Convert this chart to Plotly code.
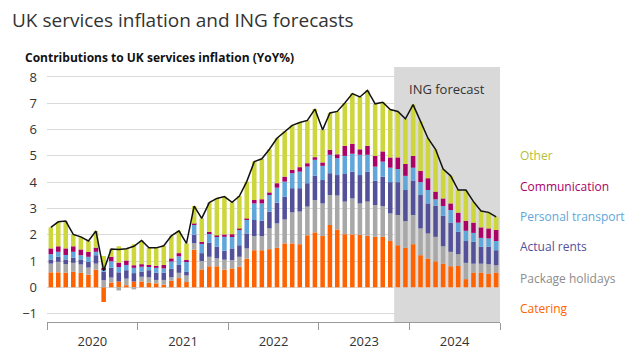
import plotly.graph_objects as go
import pandas as pd

months = pd.date_range("2020-01-01", periods=60, freq="MS").strftime("%Y-%m-%d").tolist()

catering = [0.57, 0.57, 0.56, 0.59, 0.55, 0.48, 0.67, -0.56, 0.18, 0.22, 0.08, 0.22,
            0.22, 0.17, 0.15, 0.10, 0.25, 0.35, 0.20, 1.43, 0.68, 0.80, 0.80, 0.67,
            0.72, 0.78, 1.09, 1.41, 1.41, 1.45, 1.50, 1.67, 1.67, 1.64, 1.98, 2.09,
            1.95, 2.37, 2.20, 2.02, 2.01, 2.00, 1.96, 1.92, 1.92, 1.76, 1.60, 1.50,
            1.64, 1.22, 1.09, 0.99, 0.90, 0.80, 0.81, 0.31, 0.56, 0.56, 0.52, 0.56]
package_holidays = [0.33, 0.40, 0.32, 0.34, 0.32, 0.27, 0.23, 0.27, 0.19, -0.12, 0.25, -0.08,
                    0.18, 0.21, 0.13, 0.18, 0.13, 0.20, 0.25, 0.25, 0.32, 0.36, 0.30, 0.38,
                    0.31, 0.38, 0.39, 0.54, 0.54, 0.79, 0.93, 0.91, 1.18, 1.24, 1.09, 1.23,
                    1.24, 1.14, 1.29, 1.24, 1.37, 1.19, 1.30, 1.21, 1.17, 1.05, 1.15, 1.02,
                    1.11, 1.02, 0.96, 0.93, 0.66, 0.55, 0.45, 0.62, 0.34, 0.34, 0.36, 0.28]
actual_rents = [0.16, 0.19, 0.18, 0.20, 0.19, 0.22, 0.32, 0.32, 0.38, 0.35, 0.32, 0.32,
                0.20, 0.27, 0.27, 0.27, 0.32, 0.30, 0.15, 0.32, 0.30, 0.53, 0.45, 0.34,
                0.45, 0.44, 0.57, 0.61, 0.58, 0.64, 0.79, 0.87, 0.92, 0.89, 0.89, 0.93,
                0.89, 0.83, 0.78, 1.05, 1.02, 1.08, 1.14, 0.93, 1.12, 1.19, 1.25, 1.18,
                1.31, 1.27, 1.14, 1.18, 1.16, 1.11, 0.85, 0.83, 0.83, 0.64, 0.66, 0.57]
personal_transport = [0.20, 0.19, 0.17, 0.22, 0.16, 0.19, 0.13, 0.10, 0.24, 0.20, 0.20, 0.20,
                      0.18, 0.13, 0.19, 0.17, 0.28, 0.33, 0.38, 0.38, 0.35, 0.36, 0.37, 0.53,
                      0.47, 0.58, 0.51, 0.63, 0.66, 0.63, 0.57, 0.57, 0.57, 0.63, 0.63, 0.60,
                      0.54, 0.70, 0.64, 0.69, 0.68, 0.77, 0.64, 0.53, 0.57, 0.55, 0.50, 0.54,
                      0.49, 0.49, 0.51, 0.25, 0.37, 0.48, 0.35, 0.39, 0.34, 0.34, 0.32, 0.35]
communication = [0.22, 0.21, 0.25, 0.21, 0.22, 0.19, 0.16, 0.05, 0.17, 0.17, 0.17, 0.10,
                 0.10, 0.07, 0.08, 0.13, 0.12, 0.12, 0.06, 0.04, 0.08, 0.06, 0.05, 0.09,
                 0.07, 0.05, 0.05, 0.13, 0.16, 0.10, 0.17, 0.19, 0.13, 0.17, 0.13, 0.10,
                 0.13, 0.19, 0.15, 0.38, 0.38, 0.21, 0.34, 0.41, 0.39, 0.39, 0.44, 0.45,
                 0.45, 0.43, 0.45, 0.29, 0.29, 0.25, 0.38, 0.38, 0.39, 0.40, 0.38, 0.42]
other = [0.80, 0.93, 1.04, 0.45, 0.48, 0.41, 0.63, 0.45, 0.30, 0.62, 0.45, 0.80,
         0.90, 0.65, 0.68, 0.73, 0.86, 0.85, 0.63, 0.67, 0.89, 1.11, 1.41, 1.44,
         1.21, 1.24, 1.41, 1.46, 1.54, 1.64, 1.71, 1.72, 1.69, 1.70, 1.63, 1.83,
         1.24, 1.40, 1.63, 1.63, 1.91, 1.99, 2.11, 1.98, 1.87, 1.82, 1.75, 1.72,
         1.95, 1.88, 1.52, 1.61, 1.12, 1.05, 0.86, 1.17, 0.80, 0.62, 0.61, 0.50]

series = [
    ("Catering", catering, "#FF6200"),
    ("Package holidays", package_holidays, "#A8A8A8"),
    ("Actual rents", actual_rents, "#525199"),
    ("Personal transport", personal_transport, "#60A6DA"),
    ("Communication", communication, "#AB0066"),
    ("Other", other, "#CDD63B"),
]
total = [round(sum(v), 2) for v in zip(catering, package_holidays, actual_rents,
                                        personal_transport, communication, other)]

legend_label_colors = {
    "Other": "#B5BE3A", "Communication": "#AB0066", "Personal transport": "#60A6DA",
    "Actual rents": "#525199", "Package holidays": "#8C8C8C", "Catering": "#FF6200",
}
legend_y = {"Other": 5.0, "Communication": 3.85, "Personal transport": 2.7,
            "Actual rents": 1.55, "Package holidays": 0.35, "Catering": -0.8}

forecast_start = "2023-11-01"
axis_end = "2025-01-01"

W, H = 632, 351  # page body adds an 8px offset

fig = go.Figure()
for name, vals, col in series:
    fig.add_trace(go.Bar(x=months, y=vals, name=name, marker_color=col,
                         marker_line_width=0, xperiod="M1", xperiodalignment="middle",
                         showlegend=False))
fig.add_trace(go.Scatter(x=months, y=total, mode="lines", line=dict(color="#111111", width=1.5),
                         xperiod="M1", xperiodalignment="middle", showlegend=False))

fig.add_shape(type="rect", xref="x", yref="paper", x0=forecast_start, x1=axis_end, y0=0, y1=1,
              fillcolor="#D9D9D9", line_width=0, layer="below")
fig.add_annotation(x="2024-06-01", y=7.55, xref="x", yref="y", text="ING forecast",
                   showarrow=False, font=dict(size=13, color="#333333"))

for name, _, _ in series:
    fig.add_annotation(x=1.0, xref="paper", xshift=18, y=legend_y[name], yref="y", text=name,
                       showarrow=False, xanchor="left",
                       font=dict(size=12, color=legend_label_colors[name]))

fig.add_annotation(x=0, y=1, xref="paper", yref="paper", xshift=-24, yshift=-1,
                   text="<b>Contributions to UK services inflation (YoY%)</b>",
                   showarrow=False, xanchor="left", yanchor="bottom",
                   font=dict(size=12, color="#111111"))

fig.update_layout(
    width=W, height=H,
    margin=dict(l=38.5, r=140, t=59, b=37),
    paper_bgcolor="white", plot_bgcolor="white",
    barmode="relative", bargap=0.38,
    font=dict(family="Open Sans", color="#333333"),
    title=dict(text="UK services inflation and ING forecasts", x=4 / W, xanchor="left",
               xref="container", y=1 - 12 / H, yanchor="middle",
               font=dict(size=19, color="#333333")),
    xaxis=dict(range=["2020-01-01", axis_end], dtick="M12", tick0="2020-01-01",
               ticklabelmode="period", tickformat="%Y", ticks="outside", ticklen=7,
               tickcolor="#999999", showline=True, linecolor="#999999", showgrid=False,
               tickfont=dict(size=13, color="#333333"), automargin=False),
    yaxis=dict(range=[-1.32, 8.38], tickvals=list(range(-1, 9)), showgrid=True,
               gridcolor="#DADADA", gridwidth=1, zeroline=False, ticks="",
               tickfont=dict(size=13, color="#333333"), ticklabelstandoff=9,
               automargin=False),
)

fig.write_html("out.html")
